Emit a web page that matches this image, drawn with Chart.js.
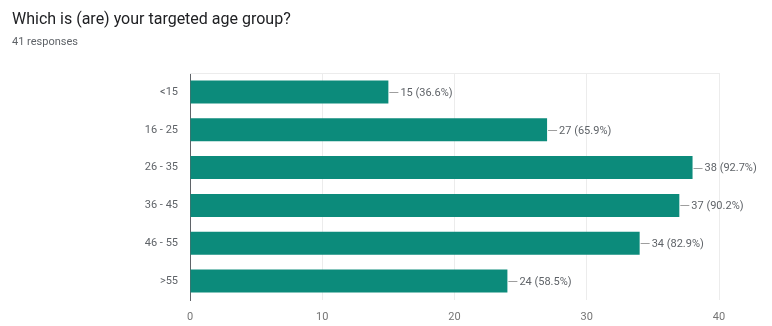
<!DOCTYPE html>
<html>
<head>
<meta charset="utf-8">
<script src="https://cdn.jsdelivr.net/npm/chart.js@4"></script>
<style>
  body { margin: 0; background: #fff; font-family: Roboto, Arial, sans-serif; }
  #wrap { position: relative; width: 772px; height: 326px; }
  #graphic { position: absolute; left: 0; top: 0; }
  .title { position: absolute; left: 12px; top: 9px; font-size: 16px; color: #202124; }
  .sub { position: absolute; left: 12px; top: 35px; font-size: 11px; color: #5f6368; }
</style>
</head>
<body>
<div id="wrap">
  <canvas id="graphic" width="772" height="326"></canvas>
  <div class="title">Which is (are) your targeted age group?</div>
  <div class="sub">41 responses</div>
</div>
<script>
var ageGroups = ['<15', '16 - 25', '26 - 35', '36 - 45', '46 - 55', '>55'];
var answerCounts = [15, 27, 38, 37, 34, 24];
var totalResponses = 41;
var xTicks = [0, 10, 20, 30, 40];

// label next to each bar: short leader line + "n (pct%)"
var valueLabels = {
    id: 'valueLabels',
    afterDatasetsDraw: function (chart) {
        var c = chart.ctx;
        var meta = chart.getDatasetMeta(0);
        c.save();
        c.font = '11px Roboto, Arial, sans-serif';
        c.fillStyle = '#5f6368';
        c.strokeStyle = '#9e9e9e';
        c.lineWidth = 1;
        c.textBaseline = 'middle';
        meta.data.forEach(function (bar, i) {
            var v = answerCounts[i];
            var pct = (v / totalResponses * 100).toFixed(1);
            c.beginPath();
            c.moveTo(bar.x + 1, Math.round(bar.y) + 0.5);
            c.lineTo(bar.x + 10, Math.round(bar.y) + 0.5);
            c.stroke();
            c.fillText(v + ' (' + pct + '%)', bar.x + 12, bar.y + 1);
        });
        c.restore();
    }
};

var ctx = document.getElementById('graphic').getContext('2d');

var graphic = new Chart(ctx, {
    type: 'bar',
    data: {
        labels: ageGroups,
        datasets: [{
            data: answerCounts,
            backgroundColor: '#0c8b7b',
            borderWidth: 0,
            barPercentage: 0.8,
            categoryPercentage: 0.76
        }]
    },
    options: {
        indexAxis: 'y',
        responsive: false,
        animation: false,
        layout: { padding: { top: 73, right: 53, bottom: 0, left: 0 } },
        plugins: {
            legend: { display: false },
            tooltip: { enabled: false }
        },
        scales: {
            x: {
                min: 0,
                max: 40,
                afterBuildTicks: function (scale) {
                    scale.ticks = xTicks.map(function (v) { return { value: v }; });
                },
                afterFit: function (scale) { scale.height = 26; },
                grid: { color: '#ececec', drawTicks: false },
                border: { display: false },
                ticks: {
                    padding: 11,
                    color: '#757575',
                    font: { family: 'Roboto, Arial, sans-serif', size: 11 }
                }
            },
            y: {
                afterFit: function (scale) { scale.width = 190; },
                grid: { display: false, drawTicks: false },
                border: { display: true, color: '#5f6368', width: 1 },
                ticks: {
                    padding: 12,
                    color: '#5f6368',
                    font: { family: 'Roboto, Arial, sans-serif', size: 11 }
                }
            }
        }
    },
    plugins: [valueLabels, {
        id: 'topEdge',
        beforeDatasetsDraw: function (chart) {
            var a = chart.chartArea;
            var c = chart.ctx;
            c.save();
            c.strokeStyle = '#ececec';
            c.beginPath();
            c.moveTo(a.left, a.top + 0.5);
            c.lineTo(a.right, a.top + 0.5);
            c.stroke();
            c.restore();
        }
    }]
});
</script>
</body>
</html>
